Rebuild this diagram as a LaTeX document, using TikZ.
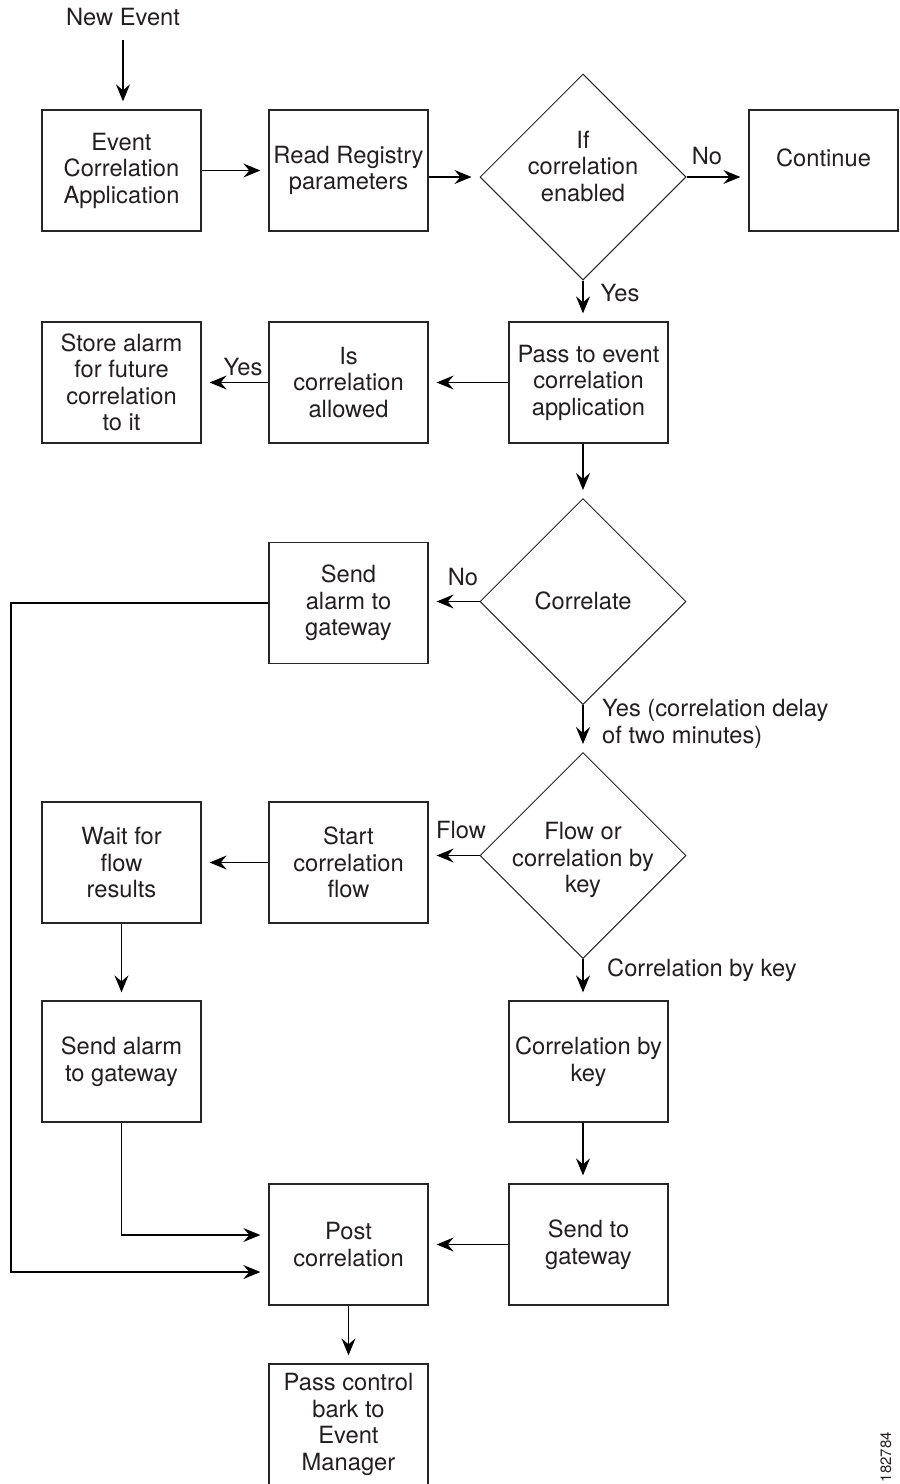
\documentclass[tikz,border=0pt]{standalone}
\usepackage{fontspec}
\setmainfont{TeX Gyre Heros}
\usetikzlibrary{shapes.geometric,arrows.meta}
\definecolor{ink}{HTML}{231F20}
\begin{document}
\begin{tikzpicture}[x=1pt,y=-1pt,
  font=\fontsize{23.7pt}{26.5pt}\selectfont,
  box/.style={draw=black!85, line width=1.3pt, minimum width=159pt, minimum height=121pt,
              inner sep=0pt, align=center, text=ink},
  dec/.style={diamond, draw=black!85, line width=1pt, minimum width=206pt, minimum height=206pt,
              inner sep=0pt},
  dectext/.style={inner sep=0pt, align=center, text=ink},
  lbl/.style={inner sep=0pt, text=ink},
  arr/.style={draw, line width=1.3pt, -{Stealth[length=17pt,width=14pt,inset=6pt]}, shorten >=8pt}]
\useasboundingbox (0,0) rectangle (900,1484);

% entry
\node[lbl] (new) at (123,17) {New Event};

% first row
\node[box] (eca) at (121.5,170.5) {Event\\Correlation\\Application};
\node[box] (rr) at (348.5,170.5) {Read Registry\\parameters};
\node[dec] (d1) at (583,177) {};
\node[dectext] at (583,166) {If\\correlation\\enabled};
\node[box, minimum width=149pt] (cont) at (823.5,170.5) {Continue\\\mbox{}};

% second row
\node[box] (pass) at (588.5,382.5) {Pass to event\\correlation\\application};
\node[box] (is) at (348.5,382.5) {Is\\correlation\\allowed};
\node[box] (store) at (121.5,382.5) {Store alarm\\for future\\correlation\\to it};

% correlate decision
\node[dec] (d2) at (583,601.5) {};
\node[dectext] at (583,601) {Correlate};
\node[box] (sa1) at (348.5,603) {Send\\alarm to\\gateway};

% flow or key decision
\node[dec] (d3) at (583,855.5) {};
\node[dectext] at (583,860) {Flow or\\correlation by\\key};
\node[box] (scf) at (348.5,862.5) {Start\\correlation\\flow};
\node[box] (wait) at (121.5,862.5) {Wait for\\flow\\results};
\node[box] (sa2) at (121.5,1061.5) {Send alarm\\to gateway};
\node[box] (cbk) at (588.5,1061.5) {Correlation by\\key};

% bottom rows
\node[box] (stg) at (588.5,1244.5) {Send to\\gateway};
\node[box] (post) at (348.5,1244.5) {Post\\correlation};
\node[box] (pcb) at (348.5,1424.5) {Pass control\\bark to\\Event\\Manager};

% branch labels
\node[lbl] at (707,156) {No};
\node[lbl] at (620,293) {Yes};
\node[lbl] at (243,367) {Yes};
\node[lbl] at (463,577) {No};
\node[lbl] at (461,830) {Flow};
\node[lbl, anchor=west, align=left] at (602,724) {Yes (correlation delay\\of two minutes)};
\node[lbl, anchor=west] at (607,970) {Correlation by key};
\node[lbl, rotate=90, font=\fontsize{15pt}{17pt}\selectfont] at (886,1457) {182784};

% rail for the long return line
\coordinate (rail) at (11,0);

% connectors
\draw[arr, shorten <=14pt] (new) -- (new |- eca.north);
\draw[arr] (eca.east) -- (eca.east -| rr.west);
\draw[arr] (d1.west -| rr.east) -- (d1.west);
\draw[arr] (d1.east) -- (d1.east -| cont.west);
\draw[arr] (d1.south) -- (d1.south |- pass.north);
\draw[arr] (pass.west) -- (pass.west -| is.east);
\draw[arr] (is.west) -- (store.east);
\draw[arr] (d2.north |- pass.south) -- (d2.north);
\draw[arr] (d2.west) -- (d2.west -| sa1.east);
\draw[arr] (sa1.west) -- (sa1.west -| rail) |- ([yshift=-27.5pt]post.west);
\draw[arr] (d2.south) -- (d3.north);
\draw[arr] (d3.west) -- (d3.west -| scf.east);
\draw[arr] (scf.west) -- (wait.east);
\draw[arr] (wait.south) -- (sa2.north);
\draw[arr] (sa2.south) |- ([yshift=9.5pt]post.west);
\draw[arr] (d3.south) -- (d3.south |- cbk.north);
\draw[arr] (d3.south |- cbk.south) -- (d3.south |- stg.north);
\draw[arr] (stg.west) -- (post.east);
\draw[arr] (post.south) -- (pcb.north);
\end{tikzpicture}
\end{document}
